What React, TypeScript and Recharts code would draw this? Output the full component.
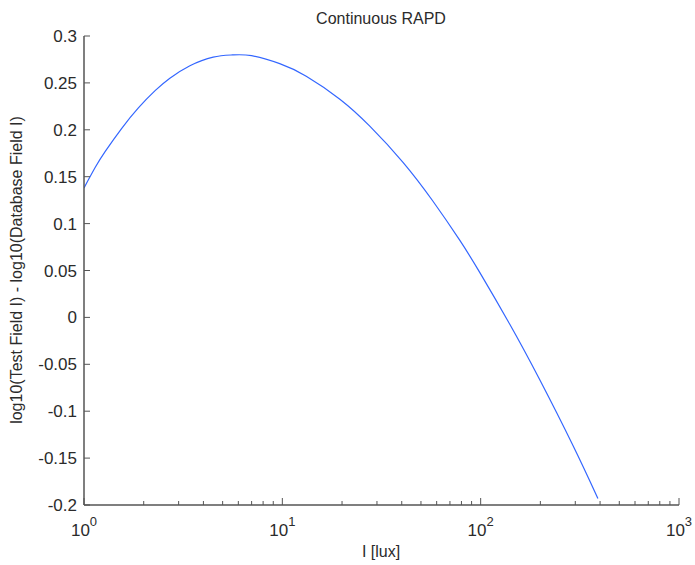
import React from 'react';
import { LineChart, Line, XAxis, YAxis, Text } from 'recharts';

// readings taken off the reference plot
const luxValues = [1, 1.14, 1.28, 1.55, 1.88, 2.29, 2.71, 3.42, 4.48, 5.6, 7.0, 9.7, 13.2, 19.5, 27.6, 40.6, 57.5, 78.4, 98.9, 140, 198, 292, 390];
const rapdValues = [0.138, 0.16, 0.177, 0.2016, 0.2234, 0.242, 0.255, 0.2683, 0.2775, 0.2798, 0.279, 0.2705, 0.2571, 0.2326, 0.2039, 0.1653, 0.1238, 0.0823, 0.048, -0.0071, -0.066, -0.1366, -0.193];

const decadeTicks = [1, 10, 100, 1000];
const xTicks = [1, 2, 3, 4, 5, 6, 7, 8, 9, 10, 20, 30, 40, 50, 60, 70, 80, 90, 100, 200, 300, 400, 500, 600, 700, 800, 900, 1000];
const yTicks = [-0.2, -0.15, -0.1, -0.05, 0, 0.05, 0.1, 0.15, 0.2, 0.25, 0.3];

const data = luxValues.map((lux, i) => ({ lux, rapd: rapdValues[i] }));

const FONT = '"Liberation Sans", Arial, sans-serif';
const TEXT = '#2b2b2b';
const AXIS = '#555555';

const XTick = ({ x, y, payload }: any) => {
  const v = payload.value;
  const major = decadeTicks.includes(v);
  const exp = Math.round(Math.log10(v));
  return (
    <g>
      <line x1={x} y1={y} x2={x} y2={y - (major ? 7 : 4)} stroke={AXIS} strokeWidth={1} />
      {major && (
        <text x={x} y={y + 31} fontFamily={FONT} fontSize={17} fill={TEXT} textAnchor="middle">
          <tspan>10</tspan>
          <tspan fontSize={13} dy={-10}>{exp}</tspan>
        </text>
      )}
    </g>
  );
};

const YTick = ({ x, y, payload }: any) => {
  const label = String(Math.round(payload.value * 100) / 100);
  return (
    <g>
      <line x1={x} y1={y} x2={x + 6} y2={y} stroke={AXIS} strokeWidth={1} />
      <text x={x - 7} y={y + 6} fontFamily={FONT} fontSize={17} fill={TEXT} textAnchor="end">
        {label}
      </text>
    </g>
  );
};

export default function App() {
  return (
    <div style={{ position: 'absolute', left: 0, top: 0, background: '#fff' }}>
      <LineChart width={695} height={565} data={data} margin={{ top: 36, right: 16, bottom: 0, left: 0 }}>
        <XAxis
          dataKey="lux"
          type="number"
          scale="log"
          domain={[1, 1000]}
          ticks={xTicks}
          interval={0}
          allowDataOverflow
          height={60}
          tickSize={0}
          tickMargin={0}
          tickLine={false}
          axisLine={{ stroke: AXIS, strokeWidth: 1.5 }}
          tick={<XTick />}
        />
        <YAxis
          type="number"
          domain={[-0.2, 0.3]}
          ticks={yTicks}
          interval={0}
          allowDataOverflow
          width={84}
          tickSize={0}
          tickMargin={0}
          tickLine={false}
          axisLine={{ stroke: AXIS, strokeWidth: 1.5 }}
          tick={<YTick />}
        />
        <Line
          dataKey="rapd"
          type="natural"
          stroke="#3366ff"
          strokeWidth={1.2}
          dot={false}
          isAnimationActive={false}
        />
        <Text x={381} y={24} textAnchor="middle" fontFamily={FONT} fontSize={16} fill={TEXT}>
          Continuous RAPD
        </Text>
      </LineChart>
      <div
        style={{
          position: 'absolute', left: 0, top: 0, width: 695, height: 565, pointerEvents: 'none',
        }}
      >
        <svg width={695} height={565}>
          <text x={381} y={557} textAnchor="middle" fontFamily={FONT} fontSize={16} fill={TEXT}>
            I [lux]
          </text>
          <text
            x={0}
            y={0}
            transform="translate(22 270) rotate(-90)"
            textAnchor="middle"
            fontFamily={FONT}
            fontSize={16}
            fill={TEXT}
          >
            log10(Test Field I) - log10(Database Field I)
          </text>
        </svg>
      </div>
    </div>
  );
}
